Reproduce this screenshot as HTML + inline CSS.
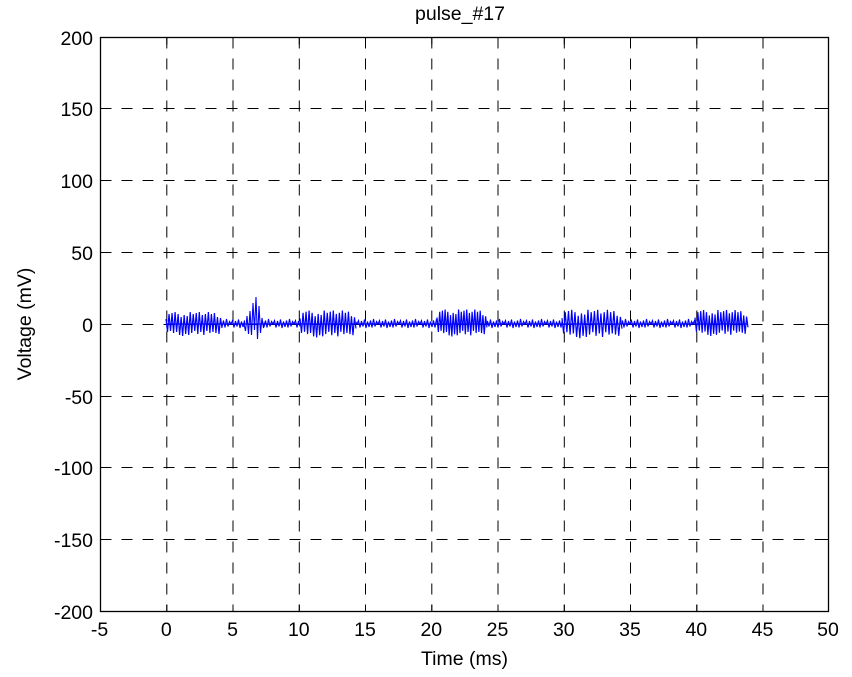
<!DOCTYPE html>
<html>
<head>
<meta charset="utf-8">
<style>
html,body{margin:0;padding:0;background:#fff;}
svg{display:block;}
text{font-family:"Liberation Sans",Arial,sans-serif;font-size:19.5px;fill:#000;}
</style>
</head>
<body>
<svg width="852" height="677" viewBox="0 0 852 677" xmlns="http://www.w3.org/2000/svg">
<defs>
<path id="burst" vector-effect="non-scaling-stroke" fill="none" stroke="#0000ff" stroke-width="1.2" d="M0,-5 L1.5,8 3,-10 4.5,7 6,-11 7.5,9 9,-12 10.5,8 12,-10 13.5,11 15,-7 16.5,12 18,-9 19.5,10 21,-8 22.5,11 24,-12 25.5,9 27,-10 28.5,7 30,-11 31.5,10 33,-12 34.5,8 36,-9 37.5,11 39,-10 40.5,7 42,-12 43.5,9 45,-10 46.5,8 48,-11 49.5,9 51,-7 52.5,10 54,-6 55.5,4"/>
<pattern id="noise" patternUnits="userSpaceOnUse" x="0" y="314" width="21" height="20">
<path fill="none" stroke="#0000ff" stroke-width="1.1" d="M0,10 L1.5,6.5 3,13.5 4.5,7 6,12.5 7.5,5.5 9,14 10.5,7.5 12,13 13.5,6.5 15,13.5 16.5,5 18,12.5 19.5,7.5 21,10"/>
</pattern>
</defs>
<rect x="0" y="0" width="852" height="677" fill="#fff"/>

<!-- grid -->
<g stroke="#000" stroke-width="1" stroke-dasharray="11,10" fill="none">
<line x1="166.8" y1="37.5" x2="166.8" y2="611.5"/>
<line x1="233" y1="37.5" x2="233" y2="611.5"/>
<line x1="299.3" y1="37.5" x2="299.3" y2="611.5"/>
<line x1="365.5" y1="37.5" x2="365.5" y2="611.5"/>
<line x1="431.8" y1="37.5" x2="431.8" y2="611.5"/>
<line x1="498" y1="37.5" x2="498" y2="611.5"/>
<line x1="564.3" y1="37.5" x2="564.3" y2="611.5"/>
<line x1="630.5" y1="37.5" x2="630.5" y2="611.5"/>
<line x1="696.8" y1="37.5" x2="696.8" y2="611.5"/>
<line x1="763" y1="37.5" x2="763" y2="611.5"/>
<line x1="100.5" y1="108.5" x2="828.5" y2="108.5"/>
<line x1="100.5" y1="180.5" x2="828.5" y2="180.5"/>
<line x1="100.5" y1="252.5" x2="828.5" y2="252.5"/>
<line x1="100.5" y1="324.5" x2="828.5" y2="324.5"/>
<line x1="100.5" y1="396.5" x2="828.5" y2="396.5"/>
<line x1="100.5" y1="467.5" x2="828.5" y2="467.5"/>
<line x1="100.5" y1="539.5" x2="828.5" y2="539.5"/>
</g>

<!-- ticks -->
<g stroke="#000" stroke-width="1">
<path d="M166.8,611.5v-7M233,611.5v-7M299.3,611.5v-7M365.5,611.5v-7M431.8,611.5v-7M498,611.5v-7M564.3,611.5v-7M630.5,611.5v-7M696.8,611.5v-7M763,611.5v-7"/>
<path d="M166.8,37.5v7M233,37.5v7M299.3,37.5v7M365.5,37.5v7M431.8,37.5v7M498,37.5v7M564.3,37.5v7M630.5,37.5v7M696.8,37.5v7M763,37.5v7"/>
<path d="M100.5,108.5h7M100.5,180.5h7M100.5,252.5h7M100.5,324.5h7M100.5,396.5h7M100.5,467.5h7M100.5,539.5h7"/>
<path d="M828.5,108.5h-7M828.5,180.5h-7M828.5,252.5h-7M828.5,324.5h-7M828.5,396.5h-7M828.5,467.5h-7M828.5,539.5h-7"/>
</g>

<!-- signal -->
<g>
<line x1="166" y1="324" x2="748" y2="324" stroke="#0000ff" stroke-width="1.2"/>
<rect x="222" y="314" width="23" height="20" fill="url(#noise)"/>
<rect x="263" y="314" width="37" height="20" fill="url(#noise)"/>
<rect x="356" y="314" width="81" height="20" fill="url(#noise)"/>
<rect x="487" y="314" width="75" height="20" fill="url(#noise)"/>
<rect x="622" y="314" width="73" height="20" fill="url(#noise)"/>
<use href="#burst" transform="translate(166,324) scale(1.009,1.0)"/>
<use href="#burst" transform="translate(300,324) scale(1.009,1.12)"/>
<use href="#burst" transform="translate(437,323) scale(0.9,1.12)"/>
<use href="#burst" transform="translate(562,324) scale(1.081,1.18)"/>
<use href="#burst" transform="translate(695,323) scale(0.955,1.08)"/>
<polyline fill="none" stroke="#0000ff" stroke-width="1.1" points="244,324 245.5,331 247,316 248.5,334 250,311 251.5,335 253,303 254.5,330 256,297 257.5,339 259,306 260.5,333 262,318 263.5,328 265,322"/>
</g>

<!-- axes box -->
<rect x="100.5" y="37.5" width="728" height="574" fill="none" stroke="#000" stroke-width="1.3"/>

<!-- y tick labels -->
<g text-anchor="end">
<text x="93" y="45">200</text>
<text x="93" y="116">150</text>
<text x="93" y="188">100</text>
<text x="93" y="260">50</text>
<text x="93" y="332">0</text>
<text x="93" y="404">-50</text>
<text x="93" y="475">-100</text>
<text x="93" y="547">-150</text>
<text x="93" y="619">-200</text>
</g>

<!-- x tick labels -->
<g text-anchor="middle">
<text x="99.5" y="636">-5</text>
<text x="166.3" y="636">0</text>
<text x="232.5" y="636">5</text>
<text x="298.8" y="636">10</text>
<text x="365" y="636">15</text>
<text x="431.3" y="636">20</text>
<text x="497.5" y="636">25</text>
<text x="563.8" y="636">30</text>
<text x="630" y="636">35</text>
<text x="696.3" y="636">40</text>
<text x="762.5" y="636">45</text>
<text x="828" y="636">50</text>
</g>

<text x="460" y="20" text-anchor="middle">pulse_#17</text>
<text x="464.5" y="665" text-anchor="middle">Time (ms)</text>
<text transform="translate(31,324) rotate(-90)" text-anchor="middle">Voltage (mV)</text>
</svg>
</body>
</html>
